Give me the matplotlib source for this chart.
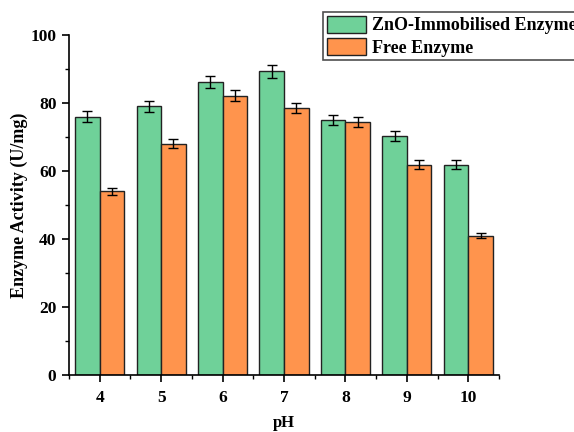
import matplotlib
matplotlib.use('Agg')
import matplotlib.pyplot as plt
import numpy as np

plt.rcParams['font.family'] = ['Liberation Serif', 'DejaVu Serif']
plt.rcParams['font.weight'] = 'bold'

ph = [4, 5, 6, 7, 8, 9, 10]
immobilised = [76.0, 79.1, 86.1, 89.3, 75.0, 70.2, 61.9]
immobilised_err = [1.6, 1.6, 1.7, 1.8, 1.5, 1.5, 1.2]
free = [54.0, 68.0, 82.2, 78.5, 74.4, 61.9, 41.0]
free_err = [1.0, 1.3, 1.6, 1.5, 1.5, 1.2, 0.8]

GREEN = '#6FD199'
ORANGE = '#FF944D'

fig = plt.figure(figsize=(5.74, 4.32), dpi=100)
ax = fig.add_axes([69 / 574, 1 - 375 / 432, 430 / 574, 340 / 432])

x = np.array(ph, dtype=float)
w = 0.4
err_kw = dict(ecolor='black', elinewidth=1, capsize=3.5, capthick=1)
ax.bar(x - w / 2, immobilised, w, yerr=immobilised_err, color=GREEN,
       edgecolor='#222222', linewidth=1, label='ZnO-Immobilised Enzyme', error_kw=err_kw)
ax.bar(x + w / 2, free, w, yerr=free_err, color=ORANGE,
       edgecolor='#222222', linewidth=1, label='Free Enzyme', error_kw=err_kw)

ax.set_xlim(3.5, 10.5)
ax.set_ylim(0, 100)
ax.set_xticks(ph)
ax.set_xticks(np.arange(3.5, 10.6, 1.0), minor=True)
ax.set_yticks([0, 20, 40, 60, 80, 100])
ax.set_yticks([10, 30, 50, 70, 90], minor=True)
ax.spines['top'].set_visible(False)
ax.spines['right'].set_visible(False)
for s in ('left', 'bottom'):
    ax.spines[s].set_linewidth(1.2)
ax.tick_params(which='major', direction='out', length=5, width=1.2, labelsize=12.5, pad=4)
ax.tick_params(axis='x', which='major', pad=6)
ax.tick_params(which='minor', direction='out', length=3, width=1.0)
for lbl in ax.get_xticklabels() + ax.get_yticklabels():
    lbl.set_fontweight('bold')

ax.set_xlabel('pH', fontsize=12, fontweight='bold', labelpad=6)
ax.set_ylabel('Enzyme Activity (U/mg)', fontsize=13, fontweight='bold', labelpad=2)

fig.legend(loc='upper left', bbox_to_anchor=(323 / 574, 1 - 12 / 432),
           fontsize=13, frameon=True, fancybox=False, edgecolor='#222222',
           borderpad=0.2, handlelength=2.2, handleheight=1.1, handletextpad=0.3,
           labelspacing=0.2, borderaxespad=0)
leg = fig.legends[0]
leg.get_frame().set_linewidth(1.2)
for t in leg.get_texts():
    t.set_fontweight('bold')

fig.savefig('out.png', dpi=100)
